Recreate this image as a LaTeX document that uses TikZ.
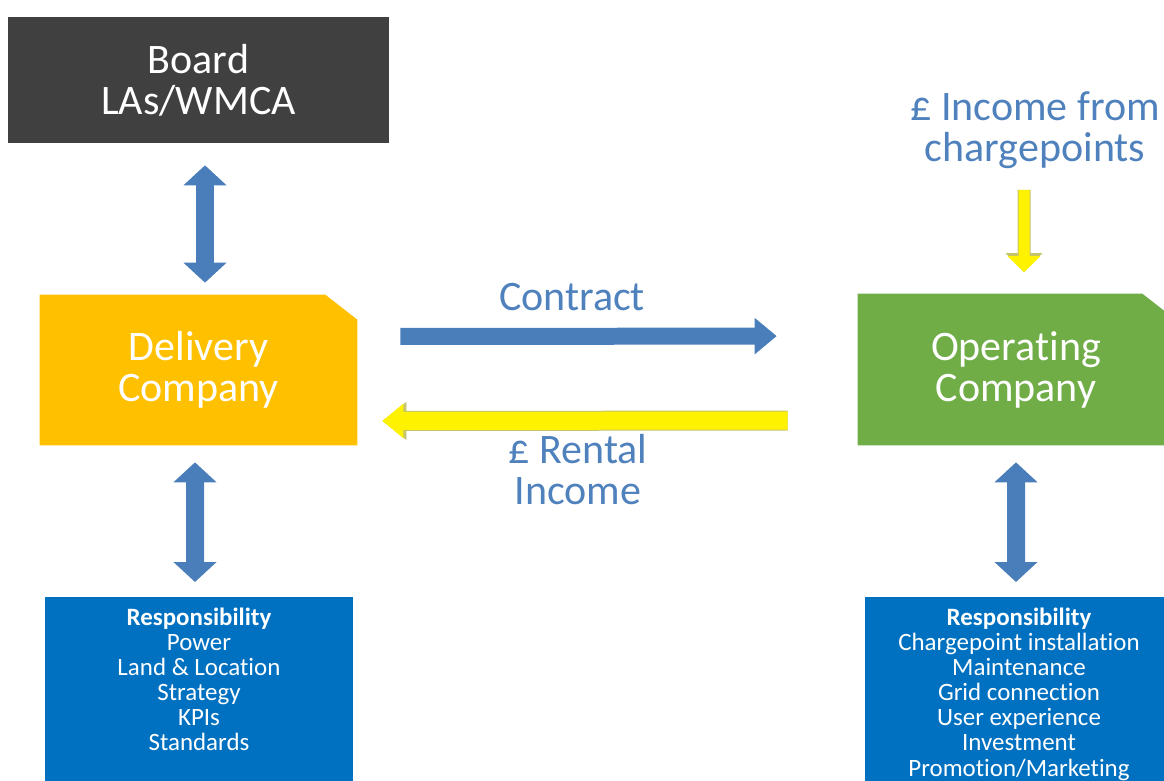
\documentclass[tikz,border=0pt]{standalone}
\usepackage{fontspec}
\setmainfont{Carlito}[Ligatures=NoCommon]
\usetikzlibrary{arrows.meta, positioning, backgrounds}

\definecolor{boardgrey}{HTML}{404040}
\definecolor{delivgold}{HTML}{FFC000}
\definecolor{opergreen}{HTML}{70AD47}
\definecolor{respblue}{HTML}{0070C0}
\definecolor{arrowblue}{HTML}{4A7EBB}
\definecolor{labelblue}{HTML}{4F81BD}
\definecolor{rimyellow}{HTML}{C4C46A}

\tikzset{
  bigfont/.style={font=\fontsize{23.9}{23.3}\selectfont},
  smallfont/.style={font=\fontsize{14.2}{14.3}\selectfont},
  cobox/.style={bigfont, text=white, align=center, inner sep=0pt},
  respbox/.style={fill=respblue, anchor=north, minimum width=6.16cm, minimum height=4.4cm, inner sep=0pt},
  resptext/.style={smallfont, text=white, align=center, inner sep=0pt},
  tag/.style={bigfont, text=labelblue, align=center, inner sep=0pt},
  dblarrow/.style={arrowblue, line width=0.36cm,
    {Triangle[width=0.84cm, length=0.4cm]}-{Triangle[width=0.84cm, length=0.4cm]}},
  bluearrow/.style={arrowblue, line width=0.34cm, -{Triangle[width=0.7cm, length=0.44cm]}},
  rentarrow/.style={yellow, line width=0.36cm, -{Triangle[width=0.66cm, length=0.42cm]},
    preaction={draw=rimyellow, line width=0.40cm, -{Triangle[width=0.73cm, length=0.48cm]}}},
  feedarrow/.style={yellow, line width=0.22cm, -{Triangle[width=0.64cm, length=0.32cm]},
    preaction={draw=rimyellow, line width=0.26cm, -{Triangle[width=0.71cm, length=0.38cm]}}}
}

\begin{document}
\begin{tikzpicture}[x=0.02cm, y=-0.02cm]
  \useasboundingbox (0,0) rectangle (1164,781);
  \clip (0,0) rectangle (1164,781);

  % companies
  \node[cobox, fill=boardgrey, minimum width=7.62cm, minimum height=2.52cm] (board) at (198.5,80) {Board\\LAs/WMCA};
  \node[cobox, minimum width=6.34cm, minimum height=3cm] (deliv) at (198.5,370) {Delivery\\Company};
  \node[cobox, minimum width=6.32cm, minimum height=3.02cm] (oper) at (1016,369.5) {Operating\\Company};
  % boxes with a snipped corner
  \begin{scope}[on background layer]
    \fill[delivgold] (deliv.south west) |- ([xshift=-0.64cm]deliv.north east)
      -- ([yshift=-0.5cm]deliv.north east) -- (deliv.south east) -- cycle;
    \fill[opergreen] (oper.south west) |- ([xshift=-0.64cm]oper.north east)
      -- ([yshift=-0.5cm]oper.north east) -- (oper.south east) -- cycle;
  \end{scope}

  % responsibilities
  \node[respbox] (dresp) at (199,597) {};
  \node[resptext, below=0.21cm of dresp.north] (dlist)
    {\textbf{Responsibility}\\Power\\Land \& Location\\Strategy\\KPIs\\Standards};
  \node[respbox] (oresp) at (1019,597) {};
  \node[resptext, below=0.21cm of oresp.north] (olist)
    {\textbf{Responsibility}\\Chargepoint installation\\Maintenance\\Grid connection\\User experience\\Investment\\Promotion/Marketing};

  % labels
  \node[tag] (contract) at (572,297) {Contract};
  \node[tag] (rental) at (578,470) {£ Rental\\Income};
  \node[tag] (income) at (1035,130) {£ Income from\\chargepoints};

  % arrows
  \draw[dblarrow, shorten <=0.44cm, shorten >=0.24cm] ([xshift=0.13cm]board.south) -- ([xshift=0.13cm]deliv.north);
  \draw[dblarrow, shorten <=0.34cm, shorten >=0.3cm] ([xshift=-0.07cm]deliv.south) -- ([xshift=-0.08cm]dresp.north);
  \draw[dblarrow, shorten <=0.34cm, shorten >=0.3cm] (oper.south) -- ([xshift=-0.06cm]oresp.north);
  \draw[bluearrow, shorten <=0.86cm, shorten >=1.62cm] ([yshift=0.67cm]deliv.east) -- ([yshift=0.67cm]oper.west);
  \draw[rentarrow, shorten <=1.4cm, shorten >=0.5cm] ([yshift=-1.02cm]oper.west) -- ([yshift=-1.02cm]deliv.east);
  \draw[feedarrow, shorten <=0.42cm, shorten >=0.43cm] ([xshift=-0.22cm]income.south) -- ([xshift=0.16cm]oper.north);
\end{tikzpicture}
\end{document}
